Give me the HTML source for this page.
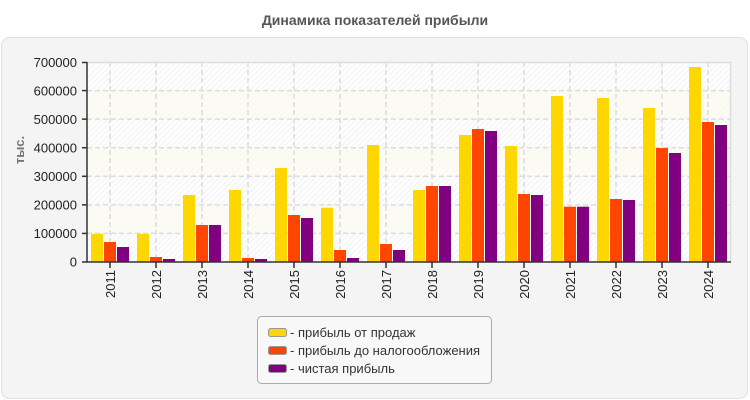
<!DOCTYPE html>
<html><head><meta charset="utf-8"><style>
html,body{margin:0;padding:0;background:#fff;}
svg{display:block;font-family:"Liberation Sans",Arial,sans-serif;}
</style></head><body>
<svg width="750" height="400" viewBox="0 0 750 400" xmlns="http://www.w3.org/2000/svg">
<defs>
<pattern id="hatch" width="4" height="4" patternUnits="userSpaceOnUse" patternTransform="rotate(45)">
<rect width="4" height="4" fill="#ffffff"/>
<line x1="0" y1="0" x2="0" y2="4" stroke="#ececec" stroke-width="1.5"/>
</pattern>
<pattern id="hatch2" width="4" height="4" patternUnits="userSpaceOnUse" patternTransform="rotate(45)">
<rect width="4" height="4" fill="#fcfcf4"/>
<line x1="0" y1="0" x2="0" y2="4" stroke="#f6f6ee" stroke-width="1.5"/>
</pattern>
</defs>
<text x="375" y="25" text-anchor="middle" font-size="14" font-weight="bold" fill="#555">Динамика показателей прибыли</text>
<rect x="1.5" y="37.5" width="746" height="361" rx="8" ry="8" fill="#f4f4f4" stroke="#e0e0e0" stroke-width="1"/>
<!-- plot bands -->
<rect x="87" y="62" width="644" height="28.57" fill="url(#hatch)"/>
<rect x="87" y="90.57" width="644" height="28.57" fill="url(#hatch2)"/>
<rect x="87" y="119.14" width="644" height="28.57" fill="url(#hatch)"/>
<rect x="87" y="147.71" width="644" height="28.57" fill="url(#hatch2)"/>
<rect x="87" y="176.29" width="644" height="28.57" fill="url(#hatch)"/>
<rect x="87" y="204.86" width="644" height="28.57" fill="url(#hatch2)"/>
<rect x="87" y="233.43" width="644" height="28.57" fill="url(#hatch)"/>
<line x1="87" y1="62.5" x2="731" y2="62.5" stroke="#dddddd" stroke-width="1.5"/>
<line x1="730.5" y1="62" x2="730.5" y2="262" stroke="#dddddd" stroke-width="1.5"/>
<!-- grid -->
<g stroke="#dcdcdc" stroke-width="1.5" stroke-dasharray="5,3" fill="none">
<line x1="87" y1="90.57" x2="731" y2="90.57"/>
<line x1="87" y1="119.14" x2="731" y2="119.14"/>
<line x1="87" y1="147.71" x2="731" y2="147.71"/>
<line x1="87" y1="176.29" x2="731" y2="176.29"/>
<line x1="87" y1="204.86" x2="731" y2="204.86"/>
<line x1="87" y1="233.43" x2="731" y2="233.43"/>
<line x1="110" y1="62" x2="110" y2="262"/>
<line x1="156" y1="62" x2="156" y2="262"/>
<line x1="202" y1="62" x2="202" y2="262"/>
<line x1="248" y1="62" x2="248" y2="262"/>
<line x1="294" y1="62" x2="294" y2="262"/>
<line x1="340" y1="62" x2="340" y2="262"/>
<line x1="386" y1="62" x2="386" y2="262"/>
<line x1="432" y1="62" x2="432" y2="262"/>
<line x1="478" y1="62" x2="478" y2="262"/>
<line x1="524" y1="62" x2="524" y2="262"/>
<line x1="570" y1="62" x2="570" y2="262"/>
<line x1="616" y1="62" x2="616" y2="262"/>
<line x1="662" y1="62" x2="662" y2="262"/>
<line x1="708" y1="62" x2="708" y2="262"/>
</g>
<!-- bars -->
<g>
<rect x="91" y="234" width="12" height="28" fill="#FFD700"/><rect x="104" y="242" width="12" height="20" fill="#FF4500"/><rect x="117" y="247" width="12" height="15" fill="#800080"/>
<rect x="137" y="234" width="12" height="28" fill="#FFD700"/><rect x="150" y="257" width="12" height="5" fill="#FF4500"/><rect x="163" y="259" width="12" height="3" fill="#800080"/>
<rect x="183" y="195" width="12" height="67" fill="#FFD700"/><rect x="196" y="225" width="12" height="37" fill="#FF4500"/><rect x="209" y="225" width="12" height="37" fill="#800080"/>
<rect x="229" y="190" width="12" height="72" fill="#FFD700"/><rect x="242" y="258" width="12" height="4" fill="#FF4500"/><rect x="255" y="259" width="12" height="3" fill="#800080"/>
<rect x="275" y="168" width="12" height="94" fill="#FFD700"/><rect x="288" y="215" width="12" height="47" fill="#FF4500"/><rect x="301" y="218" width="12" height="44" fill="#800080"/>
<rect x="321" y="207.7" width="12" height="54.3" fill="#FFD700"/><rect x="334" y="250" width="12" height="12" fill="#FF4500"/><rect x="347" y="258" width="12" height="4" fill="#800080"/>
<rect x="367" y="145" width="12" height="117" fill="#FFD700"/><rect x="380" y="244" width="12" height="18" fill="#FF4500"/><rect x="393" y="250" width="12" height="12" fill="#800080"/>
<rect x="413" y="190" width="12" height="72" fill="#FFD700"/><rect x="426" y="186" width="12" height="76" fill="#FF4500"/><rect x="439" y="186" width="12" height="76" fill="#800080"/>
<rect x="459" y="135" width="12" height="127" fill="#FFD700"/><rect x="472" y="129" width="12" height="133" fill="#FF4500"/><rect x="485" y="131" width="12" height="131" fill="#800080"/>
<rect x="505" y="146" width="12" height="116" fill="#FFD700"/><rect x="518" y="194" width="12" height="68" fill="#FF4500"/><rect x="531" y="195" width="12" height="67" fill="#800080"/>
<rect x="551" y="96" width="12" height="166" fill="#FFD700"/><rect x="564" y="206.7" width="12" height="55.3" fill="#FF4500"/><rect x="577" y="206.7" width="12" height="55.3" fill="#800080"/>
<rect x="597" y="98" width="12" height="164" fill="#FFD700"/><rect x="610" y="199" width="12" height="63" fill="#FF4500"/><rect x="623" y="200" width="12" height="62" fill="#800080"/>
<rect x="643" y="108" width="12" height="154" fill="#FFD700"/><rect x="656" y="148" width="12" height="114" fill="#FF4500"/><rect x="669" y="153" width="12" height="109" fill="#800080"/>
<rect x="689" y="67" width="12" height="195" fill="#FFD700"/><rect x="702" y="122" width="12" height="140" fill="#FF4500"/><rect x="715" y="125" width="12" height="137" fill="#800080"/>
</g>
<!-- axes -->
<g stroke="#333" stroke-width="1.5" fill="none">
<line x1="87" y1="62" x2="87" y2="262.5"/>
<line x1="86.5" y1="262" x2="731" y2="262"/>
<line x1="82" y1="62.5" x2="87" y2="62.5"/>
<line x1="82" y1="90.57" x2="87" y2="90.57"/>
<line x1="82" y1="119.14" x2="87" y2="119.14"/>
<line x1="82" y1="147.71" x2="87" y2="147.71"/>
<line x1="82" y1="176.29" x2="87" y2="176.29"/>
<line x1="82" y1="204.86" x2="87" y2="204.86"/>
<line x1="82" y1="233.43" x2="87" y2="233.43"/>
<line x1="82" y1="262" x2="87" y2="262"/>
<line x1="110" y1="262" x2="110" y2="268"/>
<line x1="156" y1="262" x2="156" y2="268"/>
<line x1="202" y1="262" x2="202" y2="268"/>
<line x1="248" y1="262" x2="248" y2="268"/>
<line x1="294" y1="262" x2="294" y2="268"/>
<line x1="340" y1="262" x2="340" y2="268"/>
<line x1="386" y1="262" x2="386" y2="268"/>
<line x1="432" y1="262" x2="432" y2="268"/>
<line x1="478" y1="262" x2="478" y2="268"/>
<line x1="524" y1="262" x2="524" y2="268"/>
<line x1="570" y1="262" x2="570" y2="268"/>
<line x1="616" y1="262" x2="616" y2="268"/>
<line x1="662" y1="262" x2="662" y2="268"/>
<line x1="708" y1="262" x2="708" y2="268"/>
</g>
<!-- y labels -->
<g font-size="13" fill="#222" text-anchor="end">
<text x="77" y="67">700000</text>
<text x="77" y="95.5">600000</text>
<text x="77" y="124">500000</text>
<text x="77" y="152.5">400000</text>
<text x="77" y="181">300000</text>
<text x="77" y="209.5">200000</text>
<text x="77" y="238">100000</text>
<text x="77" y="266.5">0</text>
</g>
<text transform="translate(24,150) rotate(-90)" text-anchor="middle" font-size="13" font-weight="bold" fill="#777">тыс.</text>
<!-- x labels -->
<g font-size="13" fill="#222" text-anchor="end">
<text transform="translate(115,270) rotate(-90)">2011</text>
<text transform="translate(161,270) rotate(-90)">2012</text>
<text transform="translate(207,270) rotate(-90)">2013</text>
<text transform="translate(253,270) rotate(-90)">2014</text>
<text transform="translate(299,270) rotate(-90)">2015</text>
<text transform="translate(345,270) rotate(-90)">2016</text>
<text transform="translate(391,270) rotate(-90)">2017</text>
<text transform="translate(437,270) rotate(-90)">2018</text>
<text transform="translate(483,270) rotate(-90)">2019</text>
<text transform="translate(529,270) rotate(-90)">2020</text>
<text transform="translate(575,270) rotate(-90)">2021</text>
<text transform="translate(621,270) rotate(-90)">2022</text>
<text transform="translate(667,270) rotate(-90)">2023</text>
<text transform="translate(713,270) rotate(-90)">2024</text>
</g>
<!-- legend -->
<rect x="257.5" y="316.5" width="234" height="67" rx="4" ry="4" fill="#f8f8f8" stroke="#aaaaaa" stroke-width="1"/>
<rect x="268.5" y="328.5" width="18" height="8" rx="2" ry="2" fill="#FFD700" stroke="#999" stroke-width="1"/>
<rect x="268.5" y="346.5" width="18" height="8" rx="2" ry="2" fill="#FF4500" stroke="#999" stroke-width="1"/>
<rect x="268.5" y="364.5" width="18" height="8" rx="2" ry="2" fill="#800080" stroke="#999" stroke-width="1"/>
<g font-size="13" fill="#333">
<text x="290" y="337">- прибыль от продаж</text>
<text x="290" y="355">- прибыль до налогообложения</text>
<text x="290" y="373">- чистая прибыль</text>
</g>
</svg>
</body></html>
